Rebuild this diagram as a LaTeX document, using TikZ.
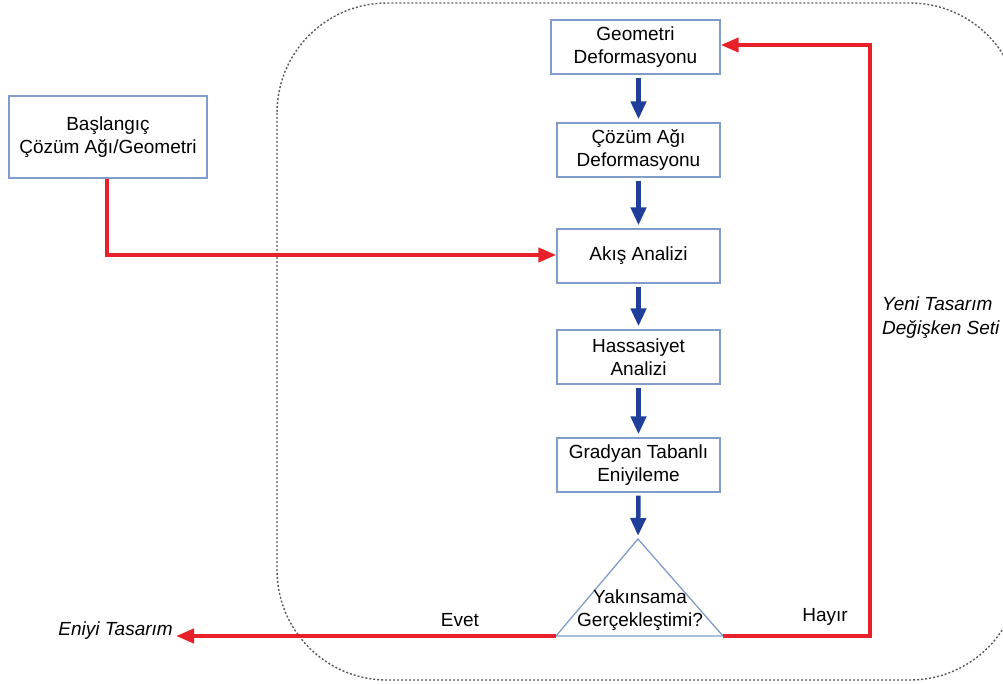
\documentclass[tikz,border=0pt]{standalone}
\usepackage{fontspec}
\setmainfont{Liberation Sans}
\usetikzlibrary{arrows.meta}
\definecolor{boxblue}{HTML}{7F9CCB}
\definecolor{arrblue}{HTML}{203F9A}
\definecolor{arrred}{HTML}{E8202A}
\begin{document}
\begin{tikzpicture}[x=1pt,y=-1pt,
  every node/.style={font=\fontsize{19}{23}\selectfont, align=center, inner sep=0pt},
  procbox/.style={draw=boxblue, line width=1.3pt, minimum width=163pt, minimum height=54pt},
  bluearr/.style={draw=arrblue, line width=4.5pt, -{Triangle[width=15pt,length=18pt]}, shorten <=3pt, shorten >=3pt},
  redarr/.style={draw=arrred, line width=4pt, -{Triangle[width=14pt,length=18pt]}},
  lbl/.style={font=\fontsize{19}{24}\selectfont\itshape}]
\useasboundingbox (0,0) rectangle (1003,684);
% dotted container
\draw[dash pattern=on 2pt off 2pt, line width=1.4pt, draw=black!65, rounded corners=110pt] (277,3) rectangle (1020,680);
% boxes
\node[procbox, minimum width=169pt] (geo) at (635.5,47) {Geometri\\Deformasyonu};
\node[procbox] (mesh) at (638.5,150) {Çözüm Ağı\\Deformasyonu};
\node[procbox] (flow) at (638.5,256) {Akış Analizi};
\node[procbox] (sens) at (638.5,357) {Hassasiyet\\Analizi};
\node[procbox] (grad) at (638.5,465) {Gradyan Tabanlı\\Eniyileme};
\node[draw=boxblue, line width=1.3pt, minimum width=198pt, minimum height=82pt] (init) at (108,137) {Başlangıç\\Çözüm Ağı/Geometri};
% triangle
\coordinate (tA) at (638,539);
\coordinate (tL) at (556,636);
\coordinate (tR) at (723,636);
\draw[draw=boxblue, line width=1.3pt, line join=miter] (tA) -- (tR) -- (tL) -- cycle;
\node (conv) at (640,610) {Yakınsama\\Gerçekleştimi?};
% blue arrows
\draw[bluearr] (geo.south -| mesh) -- (mesh.north);
\draw[bluearr] (mesh) -- (flow);
\draw[bluearr] (flow) -- (sens);
\draw[bluearr] (sens) -- (grad);
\draw[bluearr] (grad.south) -- (tA);
% red connectors
\coordinate (c1) at (107,255);
\draw[redarr] (init.south -| c1) -- (c1) -- (flow.west |- c1);
\coordinate (c2) at (870,636);
\coordinate (c3) at (870,45);
\draw[redarr] (tR) -- (c2) -- (c3) -- (geo.east |- c3);
\node[lbl, anchor=east, inner xsep=3pt] (best) at (176,631) {Eniyi Tasarım};
\draw[redarr] (tL) -- (best.east |- tL);
% labels
\node (evet) at (460,620) {Evet};
\node (hayir) at (825,617) {Hayır};
\node[lbl, align=left, anchor=west] (newset) at (882,318) {Yeni Tasarım\\Değişken Seti};
\end{tikzpicture}
\end{document}
